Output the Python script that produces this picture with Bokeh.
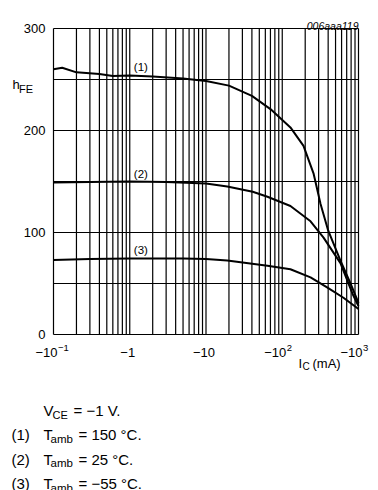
from bokeh.plotting import figure
from bokeh.models import Range1d, LinearScale
from bokeh.core.properties import value
from bokeh.embed import file_html
from bokeh.resources import INLINE
import math

# collector current |I_C| in mA (axis shown as negative values)
ic1 = [0.1, 0.13, 0.2, 0.4, 0.6, 1, 2, 5, 10, 20, 40, 70, 128, 190, 257, 318, 400, 580, 785, 1000]
hfe1 = [260, 261.5, 257, 255.5, 253.5, 254, 253, 251, 248.5, 244, 234, 221, 203, 185, 158, 128, 102, 72.5, 50, 31]

ic2 = [0.1, 0.3, 1, 3, 10, 19, 41, 64, 128, 235, 348, 580, 834, 1000]
hfe2 = [149, 149.5, 150, 149.5, 148, 145, 140, 135, 126, 111, 95, 70, 40, 28]

ic3 = [0.1, 0.3, 1, 5, 10, 19, 64, 128, 235, 392, 635, 1000]
hfe3 = [73, 74, 74.5, 74.5, 74, 72.5, 67.5, 64, 56, 46, 36, 25]

curve_names = ["(1)", "(2)", "(3)"]
x_lo, x_hi = 0.1, 1000
y_lo, y_hi = 0, 300
yticks = [0, 100, 200, 300]
ytick_labels = ["0", "100", "200", "300"]
ygrid = [0, 50, 100, 150, 200, 250, 300]
xticks = [0.1, 1, 10, 100, 1000]
xtick_base = ["\u221210", "\u22121", "\u221210", "\u221210", "\u221210"]
xtick_exp = ["\u22121", "", "", "2", "3"]
xgrid = [m * 10.0 ** e for e in range(-1, 3) for m in range(1, 10)] + [1000]

FONT = "Liberation Sans"

# canvas and plot-area geometry (pixels)
W, H = 372, 490
L, R, T, B = 53, 358, 28, 334
dec = (R - L) / (math.log10(x_hi) - math.log10(x_lo))
ky = (B - T) / (y_hi - y_lo)
xr = Range1d(10 ** (math.log10(x_lo) - L / dec), 10 ** (math.log10(x_hi) + (W - R) / dec))
yr = Range1d(y_lo - (H - B) / ky, y_hi + T / ky)

p = figure(x_axis_type="log", x_range=xr, y_range=yr, width=W, height=H,
           min_border=0, x_axis_location=None, y_axis_location=None,
           output_backend="svg", toolbar_location=None)
p.grid.visible = False
p.outline_line_color = None
p.background_fill_color = "white"
p.border_fill_color = "white"
p.extra_x_ranges = {"px": Range1d(0, W)}
p.extra_y_ranges = {"px": Range1d(H, 0)}
p.extra_x_scales = {"px": LinearScale()}
p.extra_y_scales = {"px": LinearScale()}

# grid / frame
p.segment(x0=xgrid, y0=[y_lo] * len(xgrid), x1=xgrid, y1=[y_hi] * len(xgrid),
          line_color="black", line_width=1.2)
p.segment(x0=[x_lo] * len(ygrid), y0=ygrid, x1=[x_hi] * len(ygrid), y1=ygrid,
          line_color="black", line_width=1.2)

# curves
for xs, ys in ((ic1, hfe1), (ic2, hfe2), (ic3, hfe3)):
    p.line(xs, ys, line_color="black", line_width=2)

def txt(**kw):
    kw.setdefault("text_font", value(FONT))
    kw.setdefault("text_color", "black")
    p.text(**kw)

# curve labels
txt(x=[1.40] * 3, y=[261.8, 156.9, 83.3], text=curve_names, text_font_size="11.5px",
    text_align="center", text_baseline="middle")

# y tick labels
txt(x=[x_lo] * len(yticks), y=yticks, text=ytick_labels, x_offset=-8,
    text_font_size="13px", text_align="right", text_baseline="middle")

# x tick labels
ex_i = [i for i, e in enumerate(xtick_exp) if e]
no_i = [i for i, e in enumerate(xtick_exp) if not e]
txt(x=[xticks[i] for i in no_i], y=[y_lo] * len(no_i), text=[xtick_base[i] for i in no_i],
    x_offset=-2, y_offset=18, text_font_size="13px", text_align="center",
    text_baseline="alphabetic")
txt(x=[xticks[i] for i in ex_i], y=[y_lo] * len(ex_i), text=[xtick_base[i] for i in ex_i],
    x_offset=4, y_offset=18, text_font_size="13px", text_align="right",
    text_baseline="alphabetic")
txt(x=[xticks[i] for i in ex_i], y=[y_lo] * len(ex_i), text=[xtick_exp[i] for i in ex_i],
    x_offset=4.5, y_offset=13, text_font_size="9.5px", text_align="left",
    text_baseline="alphabetic")

def ptxt(x, y, t, size="15px", style="normal", align="left"):
    txt(x=[x], y=[y], text=[t], x_range_name="px", y_range_name="px",
        text_font_size=size, text_font_style=style, text_align=align,
        text_baseline="alphabetic")

ptxt(358, 25, "006aaa119", "10.5px", "italic", "right")
ptxt(12, 84, "h", "13px")
ptxt(18.5, 88, "FE", "11px")
ptxt(298, 363, "I", "13px")
ptxt(302, 366, "C", "10px")
ptxt(312, 363, "(mA)", "13px")

ptxt(43, 410, "V")
ptxt(52, 414, "CE", "11px")
ptxt(73, 410, "= \u22121 V.")
rows = [("(1)", "= 150 \u00b0C."), ("(2)", "= 25 \u00b0C."), ("(3)", "= \u221255 \u00b0C.")]
for i, (a, b) in enumerate(rows):
    yy = 434 + 24.5 * i
    ptxt(11, yy, a)
    ptxt(43, yy, "T")
    ptxt(50, yy + 4, "amb", "11.5px")
    ptxt(78, yy, b)

open("out.html", "w").write(file_html(p, INLINE))
